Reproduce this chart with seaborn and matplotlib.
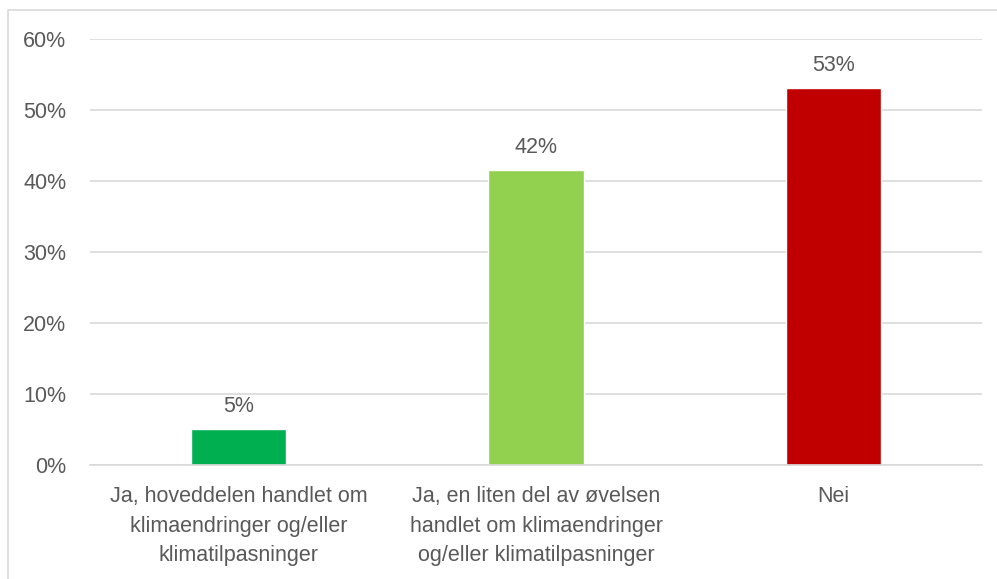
import pandas as pd
import seaborn as sns
import matplotlib.pyplot as plt
from matplotlib.patches import Rectangle

categories = [
    "Ja, hoveddelen handlet om\nklimaendringer og/eller\nklimatilpasninger",
    "Ja, en liten del av øvelsen\nhandlet om klimaendringer\nog/eller klimatilpasninger",
    "Nei",
]
values = [5.1, 41.6, 53.1]
labels = ["5%", "42%", "53%"]
colors = ["#00B050", "#92D050", "#C00000"]

df = pd.DataFrame({"kategori": categories, "andel": values})

sns.set_style("white")
plt.rcParams['font.family'] = ['Liberation Sans', 'DejaVu Sans']
text_color = "#595959"
grid_color = "#D9D9D9"
fs = 15.5

fig = plt.figure(figsize=(9.97, 5.79), dpi=100)
ax = fig.add_axes([0.0903, 0.1969, 0.8947, 0.7357])

sns.barplot(data=df, x="kategori", y="andel", hue="kategori", palette=colors,
            width=0.32, legend=False, ax=ax, saturation=1)

ax.set_ylim(0, 60)
ax.set_yticks(range(0, 61, 10))
ax.set_yticklabels([f"{t}%" for t in range(0, 61, 10)])
ax.yaxis.grid(True, color=grid_color, linewidth=1.2)
ax.set_axisbelow(True)
for s in ["top", "right", "left"]:
    ax.spines[s].set_visible(False)
ax.spines["bottom"].set_color(grid_color)
ax.spines["bottom"].set_linewidth(1.2)
ax.tick_params(axis="both", length=0, labelsize=fs, colors=text_color)
ax.tick_params(axis="x", pad=15)
ax.tick_params(axis="y", pad=17)
for t in ax.get_xticklabels():
    t.set_linespacing(1.55)
ax.set_xlabel("")
ax.set_ylabel("")

for i, (v, lab) in enumerate(zip(values, labels)):
    ax.annotate(lab, (i, v), xytext=(0, 16), textcoords="offset points",
                ha="center", va="center", fontsize=fs, color=text_color)

fig.patches.append(Rectangle((8 / 997, -0.1), 1.2, 1.1 - 10 / 579,
                             transform=fig.transFigure, fill=False,
                             edgecolor=grid_color, linewidth=1.2))

fig.savefig("out.png", dpi=100)
